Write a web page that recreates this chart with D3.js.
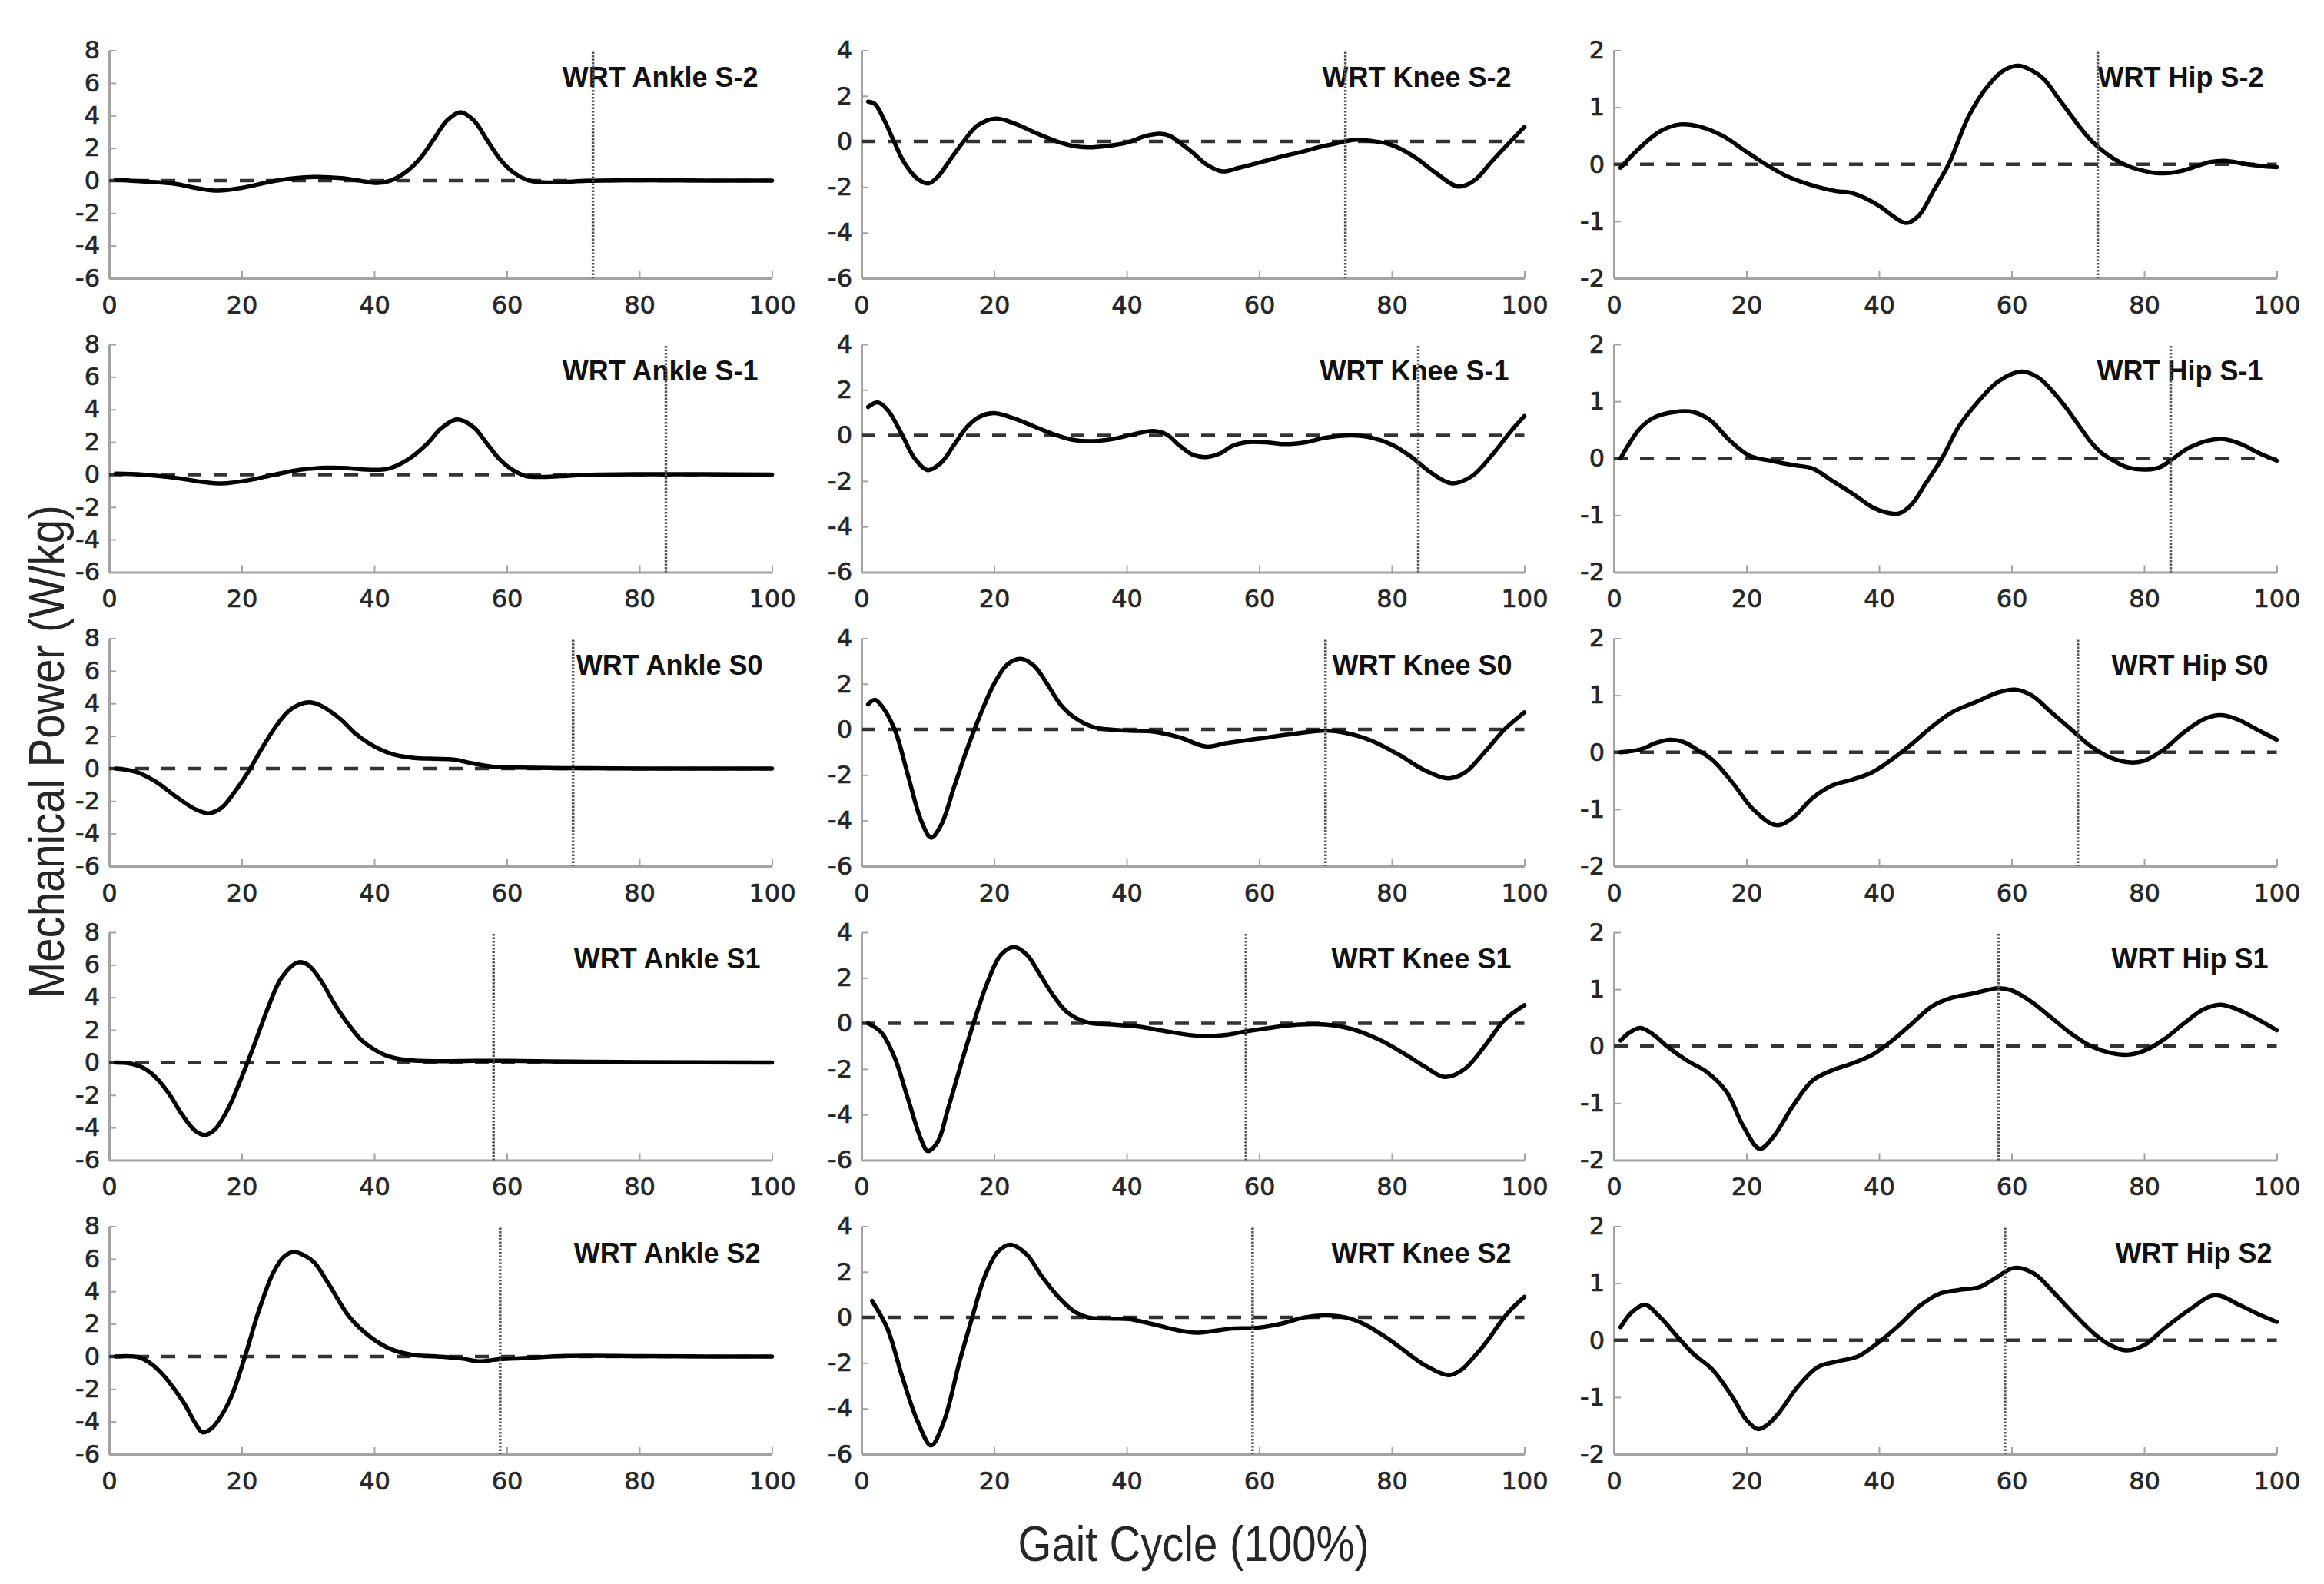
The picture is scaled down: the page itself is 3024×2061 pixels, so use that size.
<!DOCTYPE html>
<html><head><meta charset="utf-8">
<script src="https://cdn.jsdelivr.net/npm/d3@7"></script>
<style>body{margin:0;background:#fff} svg{display:block}</style>
</head><body>
<svg id="chart" width="3024" height="2061"></svg>
<script>
// ---------- categories / ticks ----------
const joints = ["Ankle", "Knee", "Hip"];
const speeds = ["S-2", "S-1", "S0", "S1", "S2"];
const toeOff = [73, 84, 70, 58, 59];
const xTicks = [0, 20, 40, 60, 80, 100];
const ankleDomain = [-6, 8], ankleTicks = [-6, -4, -2, 0, 2, 4, 6, 8];
const kneeDomain = [-6, 4], kneeTicks = [-6, -4, -2, 0, 2, 4];
const hipDomain = [-2, 2], hipTicks = [-2, -1, 0, 1, 2];

// ---------- series values [gait %, W/kg] ----------
const ankleSm2 = [[1,0.05],[5,-0.05],[10,-0.2],[13,-0.45],[16.5,-0.62],[20,-0.45],[24,-0.1],[27,0.1],[31,0.22],[35,0.15],[38,-0.02],[40.5,-0.15],[42.5,0.0],[45,0.6],[47,1.4],[49,2.55],[51,3.7],[53,4.2],[55,3.7],[57,2.5],[59,1.3],[61,0.5],[63,0.05],[65,-0.1],[68,-0.1],[72,-0.02],[80,0.02],[90,0.0],[100,0.0]];
const kneeSm2 = [[1,1.75],[2,1.65],[3.5,0.9],[4.9,0.0],[6.5,-0.95],[8.5,-1.65],[10.1,-1.84],[11.5,-1.55],[13.5,-0.75],[15.4,0.0],[17.5,0.7],[20.2,1.01],[23,0.8],[26.4,0.36],[29.5,0.0],[32,-0.2],[34.2,-0.26],[37,-0.2],[40,-0.05],[43,0.25],[45,0.34],[46.5,0.25],[48,-0.05],[50,-0.5],[52,-1.0],[54.4,-1.31],[57,-1.15],[60.6,-0.88],[63.5,-0.65],[66.8,-0.43],[69,-0.25],[71.5,-0.09],[74.6,0.08],[77,0.02],[79.3,-0.09],[81.5,-0.35],[83.9,-0.77],[86.5,-1.35],[90.1,-1.98],[92.5,-1.7],[95,-0.9],[97.9,0.0],[100,0.64]];
const hipSm2 = [[1,-0.06],[4,0.3],[7,0.58],[10,0.7],[13,0.66],[16.4,0.5],[20,0.22],[22.9,0.0],[26.3,-0.22],[30.8,-0.4],[33.5,-0.47],[36.1,-0.51],[39.9,-0.72],[42,-0.9],[44.1,-1.03],[46,-0.9],[48.3,-0.45],[50.5,0.0],[53.6,0.86],[56.6,1.4],[59,1.66],[61.1,1.73],[63,1.65],[64.9,1.49],[66.8,1.2],[68.7,0.9],[70.5,0.62],[72.5,0.36],[75.5,0.09],[78,-0.05],[80.5,-0.13],[83,-0.16],[85.5,-0.12],[88,-0.03],[90,0.04],[92.2,0.06],[95,0.01],[97.5,-0.03],[100,-0.05]];

const ankleSm1 = [[1,0.05],[5,0.0],[10,-0.2],[14,-0.45],[17,-0.55],[21,-0.35],[25,0.0],[29,0.3],[33,0.42],[36,0.4],[39,0.3],[42,0.35],[45,0.9],[48,1.9],[50,2.8],[52.5,3.38],[55,2.9],[57,1.9],[59,0.9],[61,0.25],[63,-0.1],[65,-0.15],[68,-0.1],[72,-0.02],[80,0.02],[90,0.02],[100,0.0]];
const kneeSm1 = [[1,1.25],[2.5,1.45],[4,1.1],[6,0.1],[8,-1.0],[10,-1.52],[12,-1.2],[14,-0.4],[16,0.4],[18,0.85],[20,0.98],[23,0.75],[26,0.4],[29,0.05],[32,-0.2],[35,-0.25],[38,-0.15],[41,0.05],[44,0.2],[46,0.05],[48,-0.45],[50,-0.85],[52,-0.95],[54,-0.8],[56,-0.45],[58,-0.3],[61,-0.3],[64,-0.38],[67,-0.3],[70,-0.1],[74,0.0],[77,-0.1],[80,-0.4],[83,-0.95],[86,-1.65],[89,-2.1],[92,-1.8],[95,-0.9],[98,0.2],[100,0.85]];
const hipSm1 = [[1,0.0],[4,0.53],[6,0.71],[9,0.81],[12,0.81],[14.5,0.67],[17.5,0.31],[20.5,0.04],[24,-0.05],[27,-0.12],[30,-0.18],[33,-0.4],[36,-0.62],[39,-0.86],[41,-0.95],[43,-0.97],[45,-0.8],[47,-0.45],[49.5,0.0],[52,0.55],[55,1.0],[58,1.35],[61.5,1.52],[64,1.42],[66,1.2],[68,0.92],[70,0.6],[72,0.28],[73.5,0.1],[75.5,-0.05],[77.5,-0.16],[80,-0.2],[82.3,-0.16],[84.2,-0.02],[87,0.2],[91.5,0.34],[94.6,0.25],[97.3,0.09],[100,-0.04]];

const ankleS0 = [[1,0.0],[4,-0.2],[7,-0.8],[10,-1.7],[13,-2.5],[15,-2.75],[17,-2.4],[19,-1.4],[21,-0.2],[23,1.2],[25,2.5],[27,3.5],[29,3.98],[30.5,4.06],[32,3.85],[35,3.0],[37,2.2],[39,1.6],[41,1.15],[43,0.85],[46,0.65],[49,0.6],[52,0.55],[55,0.3],[58,0.1],[62,0.05],[70,0.02],[80,0.0],[100,0.0]];
const kneeS0 = [[1,1.1],[2,1.3],[3,1.05],[5,0.0],[7,-2.0],[9,-4.0],[10.5,-4.75],[12,-4.2],[14,-2.5],[16,-0.8],[18,0.7],[20,2.0],[22,2.85],[24,3.1],[26,2.8],[28,2.0],[30,1.1],[32,0.55],[35,0.1],[40,-0.05],[44,-0.1],[48,-0.35],[52,-0.75],[55,-0.6],[60,-0.4],[65,-0.2],[70,-0.05],[73,-0.15],[77,-0.5],[81,-1.1],[85,-1.8],[88.5,-2.15],[91,-1.9],[94,-1.0],[97,0.0],[100,0.75]];
const hipS0 = [[1,0.0],[4,0.05],[6.5,0.17],[8.5,0.22],[10.5,0.18],[12.5,0.05],[15,-0.15],[18,-0.55],[21,-1.0],[24.5,-1.28],[27,-1.15],[30,-0.8],[33,-0.58],[36,-0.48],[39,-0.35],[42,-0.12],[45,0.15],[48,0.45],[51,0.7],[55,0.9],[58,1.05],[60.5,1.1],[63,1.0],[66,0.7],[69,0.4],[72,0.1],[75,-0.1],[78,-0.18],[80,-0.15],[83,0.05],[86,0.35],[89,0.58],[91.5,0.65],[94,0.58],[97,0.4],[100,0.22]];

const ankleS1 = [[1,0.0],[3,-0.05],[5,-0.3],[7,-0.9],[9,-1.9],[11,-3.2],[13,-4.2],[14.5,-4.45],[16,-4.1],[18,-2.8],[20,-0.9],[22,1.2],[24,3.4],[26,5.2],[28.5,6.15],[30,6.0],[32,5.0],[34,3.6],[36,2.4],[38,1.4],[40,0.8],[42,0.4],[45,0.15],[50,0.08],[55,0.1],[60,0.1],[70,0.05],[80,0.02],[100,0.0]];
const kneeS1 = [[1,0.0],[3,-0.4],[5,-1.5],[7,-3.3],[9,-5.1],[10,-5.6],[11.5,-5.2],[13,-3.8],[15,-1.8],[17,0.1],[19,1.8],[21,3.0],[23,3.35],[25,3.0],[27,2.1],[29,1.2],[31,0.5],[34,0.05],[38,-0.05],[42,-0.15],[46,-0.35],[51,-0.55],[55,-0.5],[58,-0.35],[62,-0.18],[66,-0.05],[70,-0.05],[74,-0.25],[78,-0.7],[82,-1.35],[85,-1.9],[88,-2.35],[91,-2.0],[94,-1.0],[97,0.15],[100,0.8]];
const hipS1 = [[1,0.1],[2.5,0.25],[4,0.32],[6,0.2],[8,0.0],[11,-0.25],[14,-0.45],[17,-0.8],[19.5,-1.4],[22,-1.8],[24,-1.6],[27,-1.05],[30,-0.6],[33,-0.42],[36,-0.3],[39,-0.15],[42,0.1],[45,0.4],[48,0.7],[51,0.85],[54,0.92],[58,1.02],[60,0.98],[63,0.78],[66,0.5],[69,0.22],[72,0.0],[75,-0.12],[77.5,-0.15],[80,-0.08],[83,0.12],[86,0.4],[89,0.65],[91.5,0.73],[94,0.65],[97,0.48],[100,0.28]];

const ankleS2 = [[1,0.0],[4.5,-0.05],[6.5,-0.5],[8.5,-1.3],[10,-2.1],[11.5,-3.0],[13,-4.1],[14.1,-4.66],[15.5,-4.4],[17,-3.6],[18.5,-2.4],[20.5,0.0],[22.5,2.7],[24.7,5.1],[26.3,6.1],[27.8,6.42],[29.5,6.2],[31,5.75],[33.2,4.4],[36.3,2.4],[39.4,1.2],[42.5,0.45],[45.7,0.1],[49.5,0.0],[53.4,-0.14],[55.7,-0.3],[58.9,-0.17],[62.7,-0.1],[69,0.03],[80,0.02],[90,0.0],[100,0.0]];
const kneeS2 = [[1.6,0.72],[3.9,-0.49],[6.2,-2.66],[8.5,-4.59],[10.5,-5.62],[12.4,-4.59],[14.8,-1.93],[16.7,0.0],[18.6,1.8],[20.6,2.89],[22.5,3.19],[24.9,2.77],[27.2,1.8],[29.5,0.96],[31.9,0.3],[34.2,0.0],[37,-0.05],[40.4,-0.07],[42.5,-0.2],[45,-0.37],[47.5,-0.55],[50.5,-0.67],[53,-0.6],[55.9,-0.49],[59.1,-0.47],[61.5,-0.38],[63.7,-0.25],[66.8,0.0],[69.9,0.09],[73,0.0],[75.5,-0.25],[77.7,-0.61],[80,-1.05],[82.4,-1.57],[85,-2.1],[88.6,-2.54],[90.5,-2.3],[92.5,-1.7],[94.5,-1.0],[96.3,-0.25],[98,0.35],[100,0.9]];
const hipS2 = [[1,0.23],[2.8,0.5],[4.7,0.62],[7,0.4],[9.6,0.06],[11.9,-0.23],[14.9,-0.52],[17.9,-1.0],[20,-1.4],[21.7,-1.56],[23,-1.5],[24.8,-1.29],[27.8,-0.81],[30.8,-0.47],[33.9,-0.37],[36.9,-0.28],[39.9,-0.04],[42.9,0.25],[46,0.59],[49,0.81],[52,0.88],[55.1,0.93],[57.3,1.07],[60.4,1.27],[63.4,1.17],[66.4,0.83],[69.5,0.45],[72.5,0.11],[74.8,-0.08],[77.4,-0.18],[80.1,-0.08],[83.1,0.21],[86.9,0.54],[90.7,0.79],[94.5,0.61],[97,0.47],[100,0.32]];

const seriesGrid = [
  [ankleSm2, kneeSm2, hipSm2],
  [ankleSm1, kneeSm1, hipSm1],
  [ankleS0, kneeS0, hipS0],
  [ankleS1, kneeS1, hipS1],
  [ankleS2, kneeS2, hipS2]
];
const domains = [ankleDomain, kneeDomain, hipDomain];
const tickSets = [ankleTicks, kneeTicks, hipTicks];

// ---------- layout ----------
const colLeft = [142, 1121, 2100];
const plotW = 862.5;
const rowTop0 = 65.5, rowStep = 382.5, plotH = 296.5;
const titleRightPad = [[18,17,17],[18,20,18],[12,16,11],[15,17,11],[15,17,6]];

const svg = d3.select("#chart");
svg.append("rect").attr("width", 3024).attr("height", 2061).attr("fill", "#fff");

const axisColor = "#a3a3a3";
const textColor = "#262626";

speeds.forEach((sp, r) => {
  joints.forEach((jt, c) => {
    const g = svg.append("g").attr("transform", `translate(${colLeft[c]},${rowTop0 + r * rowStep})`);
    const x = d3.scaleLinear().domain([0, 100]).range([0, plotW]);
    const y = d3.scaleLinear().domain(domains[c]).range([plotH, 0]);

    const xa = g.append("g").attr("transform", `translate(0,${plotH})`)
      .call(d3.axisBottom(x).tickValues(xTicks).tickFormat(d => String(d))
        .tickSizeInner(-9).tickSizeOuter(0).tickPadding(23));
    const ya = g.append("g")
      .call(d3.axisLeft(y).tickValues(tickSets[c]).tickFormat(d => String(d))
        .tickSizeInner(-9).tickSizeOuter(0).tickPadding(12));
    [xa, ya].forEach(a => {
      a.attr("font-family", "'DejaVu Sans', sans-serif").attr("font-size", 32);
      a.select(".domain").attr("stroke", axisColor).attr("stroke-width", 3);
      a.selectAll(".tick line").attr("stroke", axisColor).attr("stroke-width", 2);
      a.selectAll(".tick text").attr("fill", textColor)
        .attr("stroke", textColor).attr("stroke-width", 0.7);
    });

    // zero reference line
    g.append("line")
      .attr("x1", x(0)).attr("x2", x(100))
      .attr("y1", y(0)).attr("y2", y(0))
      .attr("stroke", "#333").attr("stroke-width", 4.5)
      .attr("stroke-dasharray", "18,16");

    // curve
    const line = d3.line().x(d => x(d[0])).y(d => y(d[1])).curve(d3.curveCatmullRom.alpha(0.5));
    g.append("path").datum(seriesGrid[r][c])
      .attr("d", line).attr("fill", "none")
      .attr("stroke", "#000").attr("stroke-width", 5.5)
      .attr("stroke-linejoin", "round").attr("stroke-linecap", "round");

    // title
    g.append("text")
      .attr("x", plotW - titleRightPad[r][c]).attr("y", 47)
      .attr("text-anchor", "end")
      .attr("font-family", "'Liberation Sans', Arial, sans-serif")
      .attr("font-weight", "bold").attr("font-size", 36)
      .attr("fill", "#111")
      .text(`WRT ${jt} ${sp}`);

    // toe-off dotted line
    g.append("line")
      .attr("x1", x(toeOff[r])).attr("x2", x(toeOff[r]))
      .attr("y1", 2).attr("y2", plotH)
      .attr("stroke", "#555").attr("stroke-width", 3.5)
      .attr("stroke-dasharray", "2.5,2");
  });
});

// axis labels
svg.append("text")
  .attr("transform", "translate(1553,2031) scale(0.88,1)")
  .attr("text-anchor", "middle")
  .attr("font-family", "'Liberation Sans', Arial, sans-serif")
  .attr("font-size", 64).attr("fill", textColor)
  .text("Gait Cycle (100%)");

svg.append("text")
  .attr("transform", "translate(83,978) rotate(-90) scale(0.88,1)")
  .attr("text-anchor", "middle")
  .attr("font-family", "'Liberation Sans', Arial, sans-serif")
  .attr("font-size", 64).attr("fill", textColor)
  .text("Mechanical Power (W/kg)");
</script>
</body></html>
